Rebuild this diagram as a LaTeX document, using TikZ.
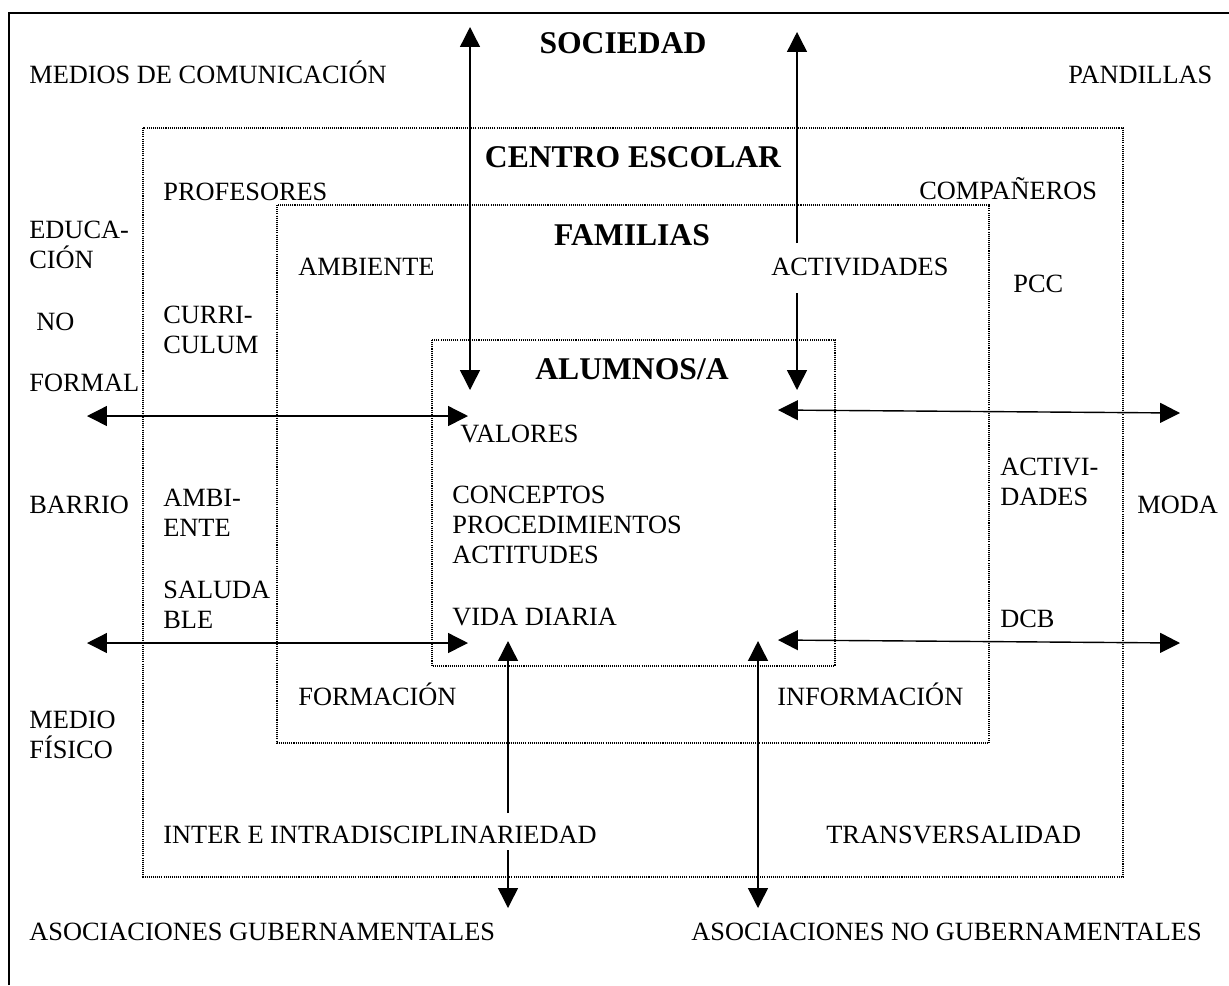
\documentclass[tikz,border=0pt]{standalone}
\usepackage{fontspec}
\setmainfont{Liberation Serif}
\usepackage{tikz}
\usetikzlibrary{arrows.meta}

\begin{document}
\begin{tikzpicture}[
    x=0.02cm, y=-0.02cm,
    % plain labels (multi-line ones sit on their last line)
    etiqueta/.style={
        anchor=base west,
        inner sep=0pt,
        align=left,
        font=\fontsize{15}{17}\selectfont
    },
    % bold level titles
    titulo/.style={
        anchor=base,
        inner sep=0pt,
        font=\fontsize{18}{21}\selectfont\bfseries
    },
    marco/.style={draw=black, line width=0.6pt, dash pattern=on 0.6pt off 0.6pt},
    flecha/.style={line width=0.8pt, >={Triangle[length=11.3pt, width=11.3pt]}}
]
    \useasboundingbox (0,0) rectangle (1229,985);

    % Frame and levels
    \draw[line width=1pt] (9,985) -- (9,13) -- (1229,13);
    \draw[marco] (143,128) rectangle (1123,877);
    \draw[marco] (277,205) rectangle (989,743);
    \draw[marco] (432,340) rectangle (835,666);

    % Titles
    \node[titulo] (sociedad) at (623,53) {SOCIEDAD};
    \node[titulo] (centro) at (633,167) {CENTRO ESCOLAR};
    \node[titulo] (familias) at (632,245) {FAMILIAS};
    \node[titulo] (alumnos) at (632,379) {ALUMNOS/A};

    % Society
    \node[etiqueta] (medios) at (29,83) {MEDIOS DE COMUNICACIÓN};
    \node[etiqueta] (pandillas) at (1068,83) {PANDILLAS};
    \node[etiqueta] (educacion) at (29,268) {EDUCA-\\CIÓN};
    \node[etiqueta] (no) at (36,330) {NO};
    \node[etiqueta] (formal) at (29,391) {FORMAL};
    \node[etiqueta] (barrio) at (29,513) {BARRIO};
    \node[etiqueta] (medio) at (29,758) {MEDIO\\FÍSICO};
    \node[etiqueta] (moda) at (1137,513) {MODA};
    \node[etiqueta] (gub) at (29,940) {ASOCIACIONES GUBERNAMENTALES};
    \node[etiqueta] (nogub) at (691,940) {ASOCIACIONES NO GUBERNAMENTALES};

    % School
    \node[etiqueta] (profesores) at (163,200) {PROFESORES};
    \node[etiqueta] (companeros) at (919,199) {COMPAÑEROS};
    \node[etiqueta] (curriculum) at (163,353) {CURRI-\\CULUM};
    \node[etiqueta] (pcc) at (1013,292) {PCC};
    \node[etiqueta] (ambsal) at (163,536) {AMBI-\\ENTE};
    \node[etiqueta] (saludable) at (163,628) {SALUDA\\BLE};
    \node[etiqueta] (activi) at (1000,505) {ACTIVI-\\DADES};
    \node[etiqueta] (dcb) at (1000,627) {DCB};
    \node[etiqueta] (inter) at (163,843) {INTER E INTRADISCIPLINARIEDAD};
    \node[etiqueta] (transv) at (826,843) {TRANSVERSALIDAD};

    % Families
    \node[etiqueta] (ambiente) at (298,275) {AMBIENTE};
    \node[etiqueta] (actividades) at (771,275) {ACTIVIDADES};
    \node[etiqueta] (formacion) at (298,705) {FORMACIÓN};
    \node[etiqueta] (informacion) at (777,705) {INFORMACIÓN};

    % Students
    \node[etiqueta] (valores) at (460,442) {VALORES};
    \node[etiqueta] (conceptos) at (452,563) {CONCEPTOS\\PROCEDIMIENTOS\\ACTITUDES};
    \node[etiqueta] (vida) at (452,625) {VIDA DIARIA};

    % Arrow ends
    \coordinate (v1a) at (470,27);
    \coordinate (v1b) at (470,390);
    \coordinate (v2a) at (797,32);
    \coordinate (v2b) at (797,243);
    \coordinate (v2c) at (797,293);
    \coordinate (v2d) at (797,390);
    \coordinate (v3a) at (508,641);
    \coordinate (v3b) at (508,813);
    \coordinate (v3c) at (508,850);
    \coordinate (v3d) at (508,908);
    \coordinate (v4a) at (758,641);
    \coordinate (v4b) at (758,908);
    \coordinate (h1a) at (87,416);
    \coordinate (h1b) at (468,416);
    \coordinate (h2a) at (87,643);
    \coordinate (h2b) at (468,643);
    \coordinate (h3a) at (778,410);
    \coordinate (h3b) at (1180,413);
    \coordinate (h4a) at (778,640);
    \coordinate (h4b) at (1180,643);

    % Edges
    \draw[flecha, <->] (v1a) -- (v1b);
    \draw[flecha, ->] (v2b) -- (v2a);
    \draw[flecha, ->] (v2c) -- (v2d);
    \draw[flecha, ->] (v3b) -- (v3a);
    \draw[flecha, ->] (v3c) -- (v3d);
    \draw[flecha, <->] (v4a) -- (v4b);
    \draw[flecha, <->] (h1a) -- (h1b);
    \draw[flecha, <->] (h2a) -- (h2b);
    \draw[flecha, <->] (h3a) -- (h3b);
    \draw[flecha, <->] (h4a) -- (h4b);

\end{tikzpicture}
\end{document}
